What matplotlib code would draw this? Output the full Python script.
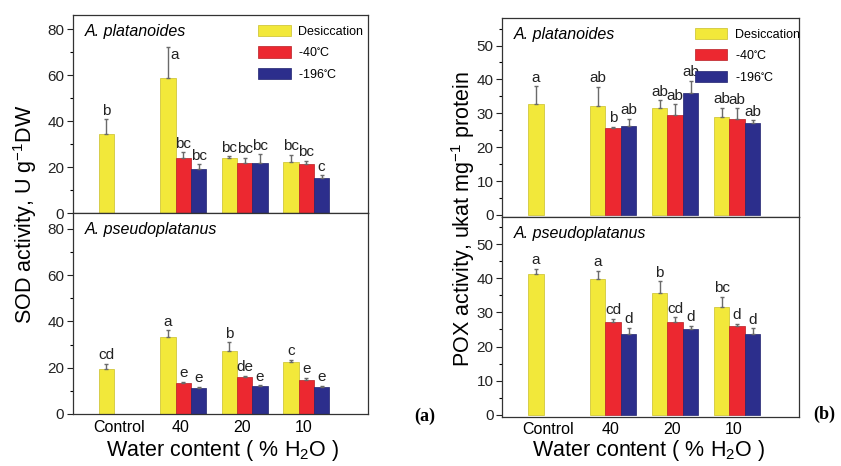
import matplotlib
matplotlib.use("Agg")
import matplotlib.pyplot as plt
from matplotlib.ticker import MultipleLocator
from matplotlib.patches import Patch

plt.rcParams['font.family'] = ['Liberation Sans', 'DejaVu Sans']
plt.rcParams['mathtext.default'] = 'regular'

# ---- data ----
categories = ['Control', '40', '20', '10']
series_names = ['Desiccation', '-40$^{\\circ}$C', '-196$^{\\circ}$C']

# SOD, A. platanoides
sod_pl_des = [34.4, 59.0, 24.0, 22.3]
sod_pl_des_err = [6.5, 13.5, 0.9, 3.2]
sod_pl_m40 = [24.3, 21.8, 21.3]
sod_pl_m40_err = [2.3, 2.5, 1.6]
sod_pl_m196 = [19.4, 21.8, 15.3]
sod_pl_m196_err = [2.0, 3.9, 1.2]
sod_pl_letters = (['b', 'a', 'bc', 'bc'], ['bc', 'bc', 'bc'], ['bc', 'bc', 'c'])

# SOD, A. pseudoplatanus
sod_ps_des = [19.5, 33.3, 27.2, 22.5]
sod_ps_des_err = [2.1, 2.9, 3.8, 0.9]
sod_ps_m40 = [13.4, 15.9, 14.6]
sod_ps_m40_err = [0.6, 0.5, 1.1]
sod_ps_m196 = [11.4, 12.0, 11.5]
sod_ps_m196_err = [0.4, 0.4, 0.8]
sod_ps_letters = (['cd', 'a', 'b', 'c'], ['e', 'de', 'e'], ['e', 'e', 'e'])

# POX, A. platanoides
pox_pl_des = [32.7, 32.3, 31.7, 28.9]
pox_pl_des_err = [5.3, 5.5, 2.1, 2.8]
pox_pl_m40 = [25.6, 29.5, 28.4]
pox_pl_m40_err = [0.4, 3.1, 3.1]
pox_pl_m196 = [26.4, 36.0, 27.1]
pox_pl_m196_err = [2.0, 3.6, 0.8]
pox_pl_letters = (['a', 'ab', 'ab', 'ab'], ['b', 'ab', 'ab'], ['ab', 'ab', 'ab'])

# POX, A. pseudoplatanus
pox_ps_des = [41.1, 39.9, 35.6, 31.6]
pox_ps_des_err = [1.6, 2.2, 3.5, 3.0]
pox_ps_m40 = [27.1, 27.1, 26.1]
pox_ps_m40_err = [1.0, 1.5, 0.5]
pox_ps_m196 = [23.8, 25.0, 23.8]
pox_ps_m196_err = [1.7, 1.1, 1.5]
pox_ps_letters = (['a', 'a', 'b', 'bc'], ['cd', 'cd', 'd'], ['d', 'd', 'd'])

# ---- style ----
colors = ['#F2E83A', '#EC2830', '#2C2E8C']
edges = ['#C9BF2A', '#B81E24', '#202270']
err_color = '#6a6a6a'
bar_w = 1.0
control_x = 2.2
group_x = [7.2, 11.2, 15.2]
tick_x = [3, 7, 11, 15]
xlim = (0, 19.2)

fig = plt.figure(figsize=(8.41, 4.66), dpi=100)


def draw_panel(ax, des, des_err, m40, m40_err, m196, m196_err, letters,
               ylim, major, minor, species, show_x, nudges=None):
    nudges = nudges or {}
    xs_des = [control_x] + [g - bar_w for g in group_x]
    xs_m40 = list(group_x)
    xs_m196 = [g + bar_w for g in group_x]
    sets = [(xs_des, des, des_err), (xs_m40, m40, m40_err), (xs_m196, m196, m196_err)]
    span = ylim[1] - ylim[0]
    for si, (xs, vals, errs) in enumerate(sets):
        ax.bar(xs, vals, width=bar_w, color=colors[si], edgecolor=edges[si],
               linewidth=0.5, zorder=2)
        ax.errorbar(xs, vals, yerr=[[0] * len(vals), errs], fmt='none',
                    ecolor=err_color, elinewidth=1.0, capsize=1.6,
                    capthick=1.0, zorder=3)
        for i, (x, v, e) in enumerate(zip(xs, vals, errs)):
            dx, dy = nudges.get((si, i), (0, 0))
            ax.text(x + dx, v + e + span * 0.008 + dy, letters[si][i],
                    ha='center', va='bottom', fontsize=11, color='#222222',
                    zorder=4)
    ax.set_xlim(*xlim)
    ax.set_ylim(*ylim)
    ax.yaxis.set_major_locator(MultipleLocator(major))
    ax.yaxis.set_minor_locator(MultipleLocator(minor))
    ax.tick_params(axis='y', which='major', direction='out', length=4,
                   width=0.8, labelsize=11, pad=2, colors='#222222')
    ax.tick_params(axis='y', which='minor', direction='out', length=2.5,
                   width=0.8)
    ax.set_xticks(tick_x)
    ax.tick_params(axis='x', length=0, labelsize=11.5, pad=4)
    if show_x:
        ax.set_xticklabels(categories)
    else:
        ax.set_xticklabels([])
    for s in ax.spines.values():
        s.set_linewidth(0.9)
        s.set_color('#333333')
    ax.text(0.04, 0.955, species, transform=ax.transAxes, style='italic',
            fontsize=11.5, ha='left', va='top')


def add_legend(ax, anchor):
    handles = [Patch(facecolor=c, edgecolor=e, linewidth=0.5)
               for c, e in zip(colors, edges)]
    ax.legend(handles, series_names, loc='upper right', bbox_to_anchor=anchor,
              frameon=False, fontsize=9, handlelength=2.6, handleheight=1.0,
              handletextpad=0.6, labelspacing=0.68, borderaxespad=0.0,
              borderpad=0.0)


# left column: SOD
ax_a1 = fig.add_axes([0.0864, 0.542, 0.3508, 0.426])
ax_a2 = fig.add_axes([0.0864, 0.1116, 0.3508, 0.4304])
draw_panel(ax_a1, sod_pl_des, sod_pl_des_err, sod_pl_m40, sod_pl_m40_err,
           sod_pl_m196, sod_pl_m196_err, sod_pl_letters, (0, 86.3), 20, 10,
           'A. platanoides', False, nudges={(0, 1): (0.45, -7.5)})
draw_panel(ax_a2, sod_ps_des, sod_ps_des_err, sod_ps_m40, sod_ps_m40_err,
           sod_ps_m196, sod_ps_m196_err, sod_ps_letters, (0, 86.7), 20, 10,
           'A. pseudoplatanus', True)
add_legend(ax_a1, (0.985, 0.95))

# right column: POX
ax_b1 = fig.add_axes([0.5966, 0.535, 0.3535, 0.427])
ax_b2 = fig.add_axes([0.5966, 0.106, 0.3535, 0.429])
draw_panel(ax_b1, pox_pl_des, pox_pl_des_err, pox_pl_m40, pox_pl_m40_err,
           pox_pl_m196, pox_pl_m196_err, pox_pl_letters, (-0.5, 58.2), 10, 5,
           'A. platanoides', False)
draw_panel(ax_b2, pox_ps_des, pox_ps_des_err, pox_ps_m40, pox_ps_m40_err,
           pox_ps_m196, pox_ps_m196_err, pox_ps_letters, (-0.5, 58.0), 10, 5,
           'A. pseudoplatanus', True)
add_legend(ax_b1, (1.003, 0.95))

# axis titles
fig.text(0.030, 0.54, 'SOD activity, U g$^{-1}$DW', rotation=90,
         ha='center', va='center', fontsize=15.5)
fig.text(0.551, 0.53, 'POX activity, ukat mg$^{-1}$ protein', rotation=90,
         ha='center', va='center', fontsize=15.5)
fig.text(0.265, 0.034, 'Water content ( % H$_2$O )', ha='center',
         va='center', fontsize=15.5)
fig.text(0.771, 0.034, 'Water content ( % H$_2$O )', ha='center',
         va='center', fontsize=15.5)

# panel tags
fig.text(0.492, 0.107, '(a)', family=['Liberation Serif', 'DejaVu Serif'],
         fontweight='bold', fontsize=13, ha='left', va='center')
fig.text(0.967, 0.11, '(b)', family=['Liberation Serif', 'DejaVu Serif'],
         fontweight='bold', fontsize=13, ha='left', va='center')

fig.savefig('out.png', dpi=100)
